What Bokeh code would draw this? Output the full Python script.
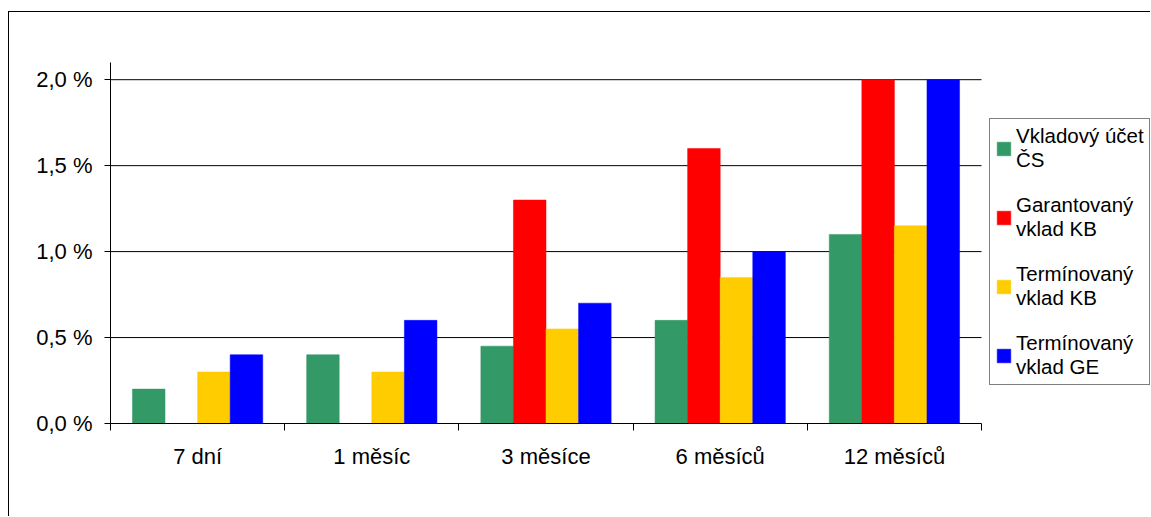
import math

from bokeh.plotting import figure
from bokeh.models import (Range1d, FixedTicker, CustomJSTickFormatter, Legend,
                          LegendItem, ColumnDataSource)
from bokeh.embed import file_html
from bokeh.resources import INLINE

# Deposit interest rates (% p.a.) by term
categories = ["7 dní", "1 měsíc", "3 měsíce", "6 měsíců", "12 měsíců"]
series_names = ["Vkladový účet\nČS", "Garantovaný\nvklad KB",
                "Termínovaný\nvklad KB", "Termínovaný\nvklad GE"]
vkladovy_ucet_cs = [0.20, 0.40, 0.45, 0.60, 1.10]
garantovany_vklad_kb = [math.nan, math.nan, 1.30, 1.60, 2.00]
terminovany_vklad_kb = [0.30, 0.30, 0.55, 0.85, 1.15]
terminovany_vklad_ge = [0.40, 0.60, 0.70, 1.00, 2.00]
series_colors = ["#339966", "#FF0000", "#FFCC00", "#0000FF"]
y_ticks = [0.0, 0.5, 1.0, 1.5, 2.0]

series_values = [vkladovy_ucet_cs, garantovany_vklad_kb,
                 terminovany_vklad_kb, terminovany_vklad_ge]

FONT = "Liberation Sans"
FONT_SIZE = "22px"
BAR_W = 0.187

# The plotting frame runs to the right edge so the legend can sit inside it;
# the category axis itself only covers the first len(categories) units.
PLOT_W, PLOT_H = 1142, 505
LEFT, TOP, BOTTOM = 101, 50, 94
frame_w = PLOT_W - LEFT
cat_px = 871 / len(categories)
x_end = frame_w / cat_px
n_cat = len(categories)

p = figure(width=PLOT_W, height=PLOT_H, output_backend="svg", toolbar_location=None,
           x_range=Range1d(0, x_end), y_range=Range1d(0, 2.1),
           min_border_left=LEFT, min_border_right=0,
           min_border_top=TOP, min_border_bottom=BOTTOM)
p.styles = {"margin-left": "8px", "margin-top": "11px",
            "border-left": "1px solid #000", "border-top": "1px solid #000"}
p.outline_line_color = None
p.background_fill_color = "white"
p.border_fill_color = "white"

# horizontal grid lines across the category area only
grid_y = y_ticks[1:]
p.segment(x0=[0] * len(grid_y), x1=[n_cat] * len(grid_y), y0=grid_y, y1=grid_y,
          line_color="#000000", line_width=1)

items = []
n = len(series_values)
for k, (name, vals, col) in enumerate(zip(series_names, series_values, series_colors)):
    xs = [i + 0.5 + (k - (n - 1) / 2) * BAR_W for i in range(n_cat)]
    src = ColumnDataSource(dict(x=xs, top=vals))
    r = p.vbar(x="x", top="top", bottom=0, width=BAR_W, source=src,
               fill_color=col, line_color=col, line_width=0.5)
    items.append(LegendItem(label=name, renderers=[r]))

# y axis: percent with decimal comma
p.yaxis.ticker = FixedTicker(ticks=y_ticks, minor_ticks=[])
p.yaxis.formatter = CustomJSTickFormatter(
    code="return tick.toFixed(1).replace('.', ',') + ' %';")
p.yaxis.major_tick_out = 6
p.yaxis.major_tick_in = 0
p.yaxis.major_label_standoff = 12
p.yaxis.axis_line_color = "#000000"
p.yaxis.major_tick_line_color = "#000000"

# x axis: labels centred on categories, tick marks on category boundaries
centers = [i + 0.5 for i in range(n_cat)]
bounds = [float(i) for i in range(n_cat + 1)]
p.xaxis.ticker = FixedTicker(ticks=centers, minor_ticks=bounds)
p.xaxis.major_label_overrides = {c: lab for c, lab in zip(centers, categories)}
p.xaxis.bounds = (0, n_cat)
p.xaxis.major_tick_out = 0
p.xaxis.major_tick_in = 0
p.xaxis.minor_tick_out = 7
p.xaxis.minor_tick_in = 0
p.xaxis.minor_tick_line_color = "#000000"
p.xaxis.axis_line_color = "#000000"
p.xaxis.major_label_standoff = 13

for ax in (p.xaxis, p.yaxis):
    ax.major_label_text_font = FONT
    ax.major_label_text_font_size = FONT_SIZE
    ax.major_label_text_color = "#000000"

p.xgrid.visible = False
p.ygrid.visible = False

legend = Legend(items=items, location=(879, 38), orientation="vertical",
                border_line_color="#000000", border_line_width=1,
                background_fill_color="white", background_fill_alpha=1,
                label_text_font=FONT, label_text_font_size="20.5px",
                label_text_line_height=1.1, label_text_color="#000000",
                glyph_width=17, glyph_height=17, label_standoff=4,
                padding=5, spacing=21, margin=0)
p.add_layout(legend, "center")

open("out.html", "w").write(file_html(p, INLINE))
